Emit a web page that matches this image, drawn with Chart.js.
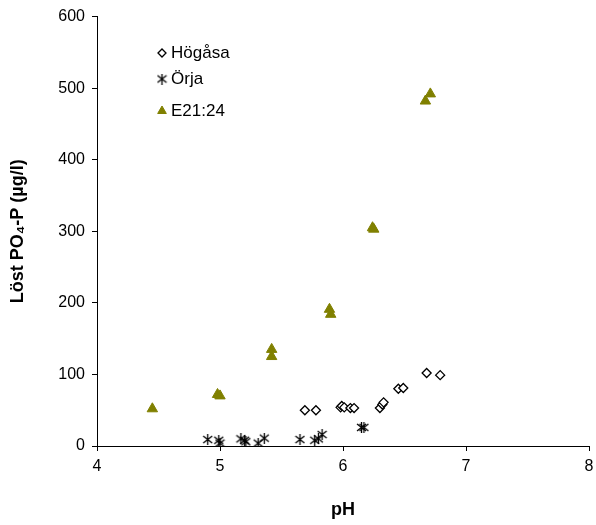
<!DOCTYPE html>
<html>
<head>
<meta charset="utf-8">
<script src="https://cdn.jsdelivr.net/npm/chart.js@4/dist/chart.umd.min.js"></script>
<style>
  html, body { margin: 0; padding: 0; background: #fff; }
  #wrap { width: 596px; height: 525px; }
</style>
</head>
<body>
<div id="wrap"><canvas id="myChart" width="596" height="525"></canvas></div>
<script>
// pH and dissolved PO4-P values
const hogasaPH  = [5.69, 5.78, 5.98, 5.99, 6.01, 6.06, 6.09, 6.30, 6.32, 6.33, 6.45, 6.49, 6.68, 6.79]
const hogasaP   = [50, 50, 54, 56, 54, 53, 53, 53, 58, 61, 80, 81, 102, 99]

const orjaPH = [4.90, 4.99, 5.00, 5.17, 5.20, 5.21, 5.31, 5.36, 5.65, 5.77, 5.80, 5.83, 6.15, 6.17]
const orjaP  = [9, 8, 4, 10, 8, 6, 4, 11, 9, 8, 10, 16, 26, 26]

const e21PH = [4.45, 4.98, 5.00, 5.42, 5.42, 5.89, 5.90, 6.24, 6.25, 6.67, 6.71]
const e21P  = [52, 72, 70, 135, 125, 191, 184, 305, 303, 482, 492]

const xTicks = [4, 5, 6, 7, 8]
const yTicks = [0, 100, 200, 300, 400, 500, 600]

const toPoints = (xs, ys) => xs.map((x, i) => ({ x: x, y: ys[i] }))

// excel-style asterisk: an x with a vertical stroke
function makeAsterisk(){
    const c = document.createElement("canvas")
    c.width = 11
    c.height = 11
    const g = c.getContext("2d")
    g.strokeStyle = "#000"
    g.lineWidth = 1.3
    g.beginPath()
    g.moveTo(1, 2); g.lineTo(10, 9)
    g.moveTo(10, 2); g.lineTo(1, 9)
    g.moveTo(5.5, 0); g.lineTo(5.5, 11)
    g.stroke()
    return c
}
const asterisk = makeAsterisk()

// legend drawn inside the plot area, top left
const innerLegend = {
    id: "innerLegend",
    afterDraw(chart){
        const ctx = chart.ctx
        const rows = [53, 79, 111]
        ctx.save()
        chart.data.datasets.forEach((ds, i) => {
            const y = rows[i]
            const x = 162
            if(ds.pointStyle instanceof HTMLCanvasElement){
                ctx.drawImage(ds.pointStyle, x - 5.5, y - 5.5)
            } else {
                ctx.fillStyle = ds.backgroundColor
                ctx.strokeStyle = ds.borderColor
                ctx.lineWidth = ds.borderWidth
                Chart.helpers.drawPoint(ctx, { pointStyle: ds.pointStyle, radius: ds.legendRadius, borderWidth: ds.borderWidth, rotation: 0 }, x, y)
            }
            ctx.fillStyle = "#000"
            ctx.font = "17px 'Liberation Sans', Arial, sans-serif"
            ctx.textBaseline = "middle"
            ctx.fillText(ds.label, 171, y)
        })
        ctx.restore()
    }
}

const ctx = document.getElementById("myChart")

new Chart(ctx, {
    type: "scatter",
    data: {
        datasets: [
            {
                label: "Högåsa",
                data: toPoints(hogasaPH, hogasaP),
                pointStyle: "rectRot",
                pointRadius: 4.5,
                legendRadius: 4,
                backgroundColor: "#fff",
                borderColor: "#000",
                borderWidth: 1.3
            },
            {
                label: "Örja",
                data: toPoints(orjaPH, orjaP),
                pointStyle: asterisk,
                backgroundColor: "#000",
                borderColor: "#000",
                borderWidth: 1
            },
            {
                label: "E21:24",
                data: toPoints(e21PH, e21P),
                pointStyle: "triangle",
                pointRadius: 6,
                legendRadius: 5,
                backgroundColor: "#808000",
                borderColor: "#808000",
                borderWidth: 1
            }
        ]
    },
    options: {
        responsive: false,
        animation: false,
        layout: { padding: { top: 15, right: -3, left: 0, bottom: 0 } },
        plugins: {
            legend: { display: false },
            tooltip: { enabled: false }
        },
        scales: {
            x: {
                type: "linear",
                min: 4,
                max: 8,
                afterBuildTicks: (scale) => { scale.ticks = xTicks.map(v => ({ value: v })) },
                afterFit: (scale) => {
                    scale.height = 79
                    scale.paddingRight = 1
                },
                border: { color: "#000", width: 1 },
                grid: { drawOnChartArea: false, drawTicks: true, tickLength: 5, color: "#000" },
                ticks: {
                    color: "#000",
                    padding: 6,
                    font: { family: "'Liberation Sans', Arial, sans-serif", size: 16 }
                },
                title: {
                    display: true,
                    text: "pH",
                    color: "#000",
                    padding: { top: 14 },
                    font: { family: "'Liberation Sans', Arial, sans-serif", size: 18, weight: "bold" }
                }
            },
            y: {
                type: "linear",
                min: 0,
                max: 600,
                afterBuildTicks: (scale) => { scale.ticks = yTicks.map(v => ({ value: v })) },
                afterFit: (scale) => { scale.width = 97 },
                border: { color: "#000", width: 1 },
                grid: { drawOnChartArea: false, drawTicks: true, tickLength: 5, color: "#000" },
                ticks: {
                    color: "#000",
                    padding: 7,
                    font: { family: "'Liberation Sans', Arial, sans-serif", size: 16 }
                },
                title: {
                    display: true,
                    text: "Löst PO₄-P (µg/l)",
                    color: "#000",
                    padding: { top: 7, bottom: 4 },
                    font: { family: "'Liberation Sans', Arial, sans-serif", size: 18, weight: "bold" }
                }
            }
        }
    },
    plugins: [innerLegend]
})
</script>
</body>
</html>
